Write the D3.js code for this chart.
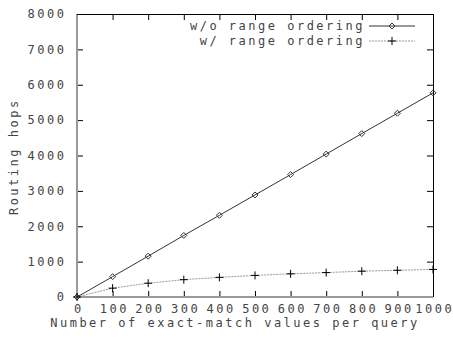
<!DOCTYPE html>
<html>
<head>
<meta charset="utf-8">
<script src="https://cdn.jsdelivr.net/npm/d3@7"></script>
<style>
  body { margin: 0; background: #fff; }
  text { font-family: "DejaVu Sans Mono", monospace; font-size: 12px; letter-spacing: 2.5px; fill: #444; }
</style>
</head>
<body>
<svg id="chart" width="453" height="341"></svg>
<script>
// data
const queryValues = [0, 100, 200, 300, 400, 500, 600, 700, 800, 900, 1000];
const withoutOrdering = [0, 575, 1155, 1740, 2310, 2885, 3460, 4040, 4620, 5195, 5770];
const withOrdering = [0, 250, 390, 490, 555, 610, 655, 690, 730, 755, 780];
const seriesNames = ["w/o range ordering", "w/ range ordering"];
const xTicks = [0, 100, 200, 300, 400, 500, 600, 700, 800, 900, 1000];
const yTicks = [0, 1000, 2000, 3000, 4000, 5000, 6000, 7000, 8000];

const svg = d3.select("#chart");

// plot box
const plotL = 77, plotR = 433, plotT = 14, plotB = 297;

const x = d3.scaleLinear().domain([0, 1000]).range([plotL, plotR]);
const y = d3.scaleLinear().domain([0, 8000]).range([plotB, plotT]);

// ticks pointing inward, gnuplot style
svg.append("g")
    .attr("transform", `translate(${plotL},0)`)
    .call(d3.axisLeft(y).tickValues(yTicks).tickFormat(d3.format("d"))
      .tickSizeInner(-6).tickSizeOuter(0).tickPadding(10.5))
    .call(g => g.select(".domain").remove());

svg.append("g")
    .attr("transform", `translate(${plotR},0)`)
    .call(d3.axisRight(y).tickValues(yTicks).tickSizeInner(-6).tickSizeOuter(0).tickFormat(""))
    .call(g => g.select(".domain").remove());

svg.append("g")
    .attr("transform", `translate(0,${plotB})`)
    .call(d3.axisBottom(x).tickValues(xTicks).tickFormat(d3.format("d"))
      .tickSizeInner(-6).tickSizeOuter(0).tickPadding(7))
    .call(g => g.select(".domain").remove())
    .call(g => g.selectAll("text").attr("dx", "1.25"));

svg.append("g")
    .attr("transform", `translate(0,${plotT})`)
    .call(d3.axisTop(x).tickValues(xTicks).tickSizeInner(-6).tickSizeOuter(0).tickFormat(""))
    .call(g => g.select(".domain").remove());

svg.selectAll(".tick line").attr("stroke", "#000");
svg.selectAll(".tick text")
    .attr("font-family", null).attr("font-size", null)
    .attr("fill", "#444");

// border: left/bottom grey, top/right black
svg.append("line").attr("x1", plotL).attr("x2", plotL).attr("y1", plotT).attr("y2", plotB)
    .attr("stroke", "#999").attr("stroke-width", 2);
svg.append("line").attr("x1", plotL).attr("x2", plotR).attr("y1", plotB).attr("y2", plotB)
    .attr("stroke", "#999").attr("stroke-width", 2);
svg.append("line").attr("x1", plotL).attr("x2", plotR + 0.5).attr("y1", plotT + 0.5).attr("y2", plotT + 0.5)
    .attr("stroke", "#000");
svg.append("line").attr("x1", plotR + 0.5).attr("x2", plotR + 0.5).attr("y1", plotT).attr("y2", plotB)
    .attr("stroke", "#000");

// series
const series = [
  { name: seriesNames[0], values: withoutOrdering, color: "#333", dash: null, marker: "diamond" },
  { name: seriesNames[1], values: withOrdering, color: "#999", dash: "2,1", marker: "plus" }
];

const line = d3.line().x(d => x(d[0])).y(d => y(d[1]));

function drawMarker(g, type, cx, cy) {
  if (type === "diamond") {
    g.append("path")
      .attr("d", `M${cx},${cy - 3}L${cx + 3},${cy}L${cx},${cy + 3}L${cx - 3},${cy}Z`)
      .attr("fill", "none").attr("stroke", "#333");
  } else {
    g.append("path")
      .attr("d", `M${cx - 4},${cy}H${cx + 4}M${cx},${cy - 4}V${cy + 4}`)
      .attr("fill", "none").attr("stroke", "#000");
  }
}

series.forEach(s => {
  const pts = queryValues.map((q, i) => [q, s.values[i]]);
  svg.append("path")
      .datum(pts)
      .attr("d", line)
      .attr("fill", "none")
      .attr("stroke", s.color)
      .attr("stroke-width", 1)
      .attr("stroke-dasharray", s.dash);
  const mg = svg.append("g");
  pts.forEach(p => drawMarker(mg, s.marker, x(p[0]), y(p[1])));
});

// legend
series.forEach((s, i) => {
  const ly = 26 + i * 15;
  svg.append("text")
      .attr("x", 365)
      .attr("y", ly)
      .attr("dy", "0.35em")
      .attr("text-anchor", "end")
      .text(s.name);
  svg.append("line")
      .attr("x1", 369).attr("x2", 415).attr("y1", ly).attr("y2", ly)
      .attr("stroke", s.color).attr("stroke-dasharray", s.dash);
  drawMarker(svg, s.marker, 392, ly);
});

// axis titles
svg.append("text")
    .attr("x", 235)
    .attr("y", 327)
    .attr("text-anchor", "middle")
    .text("Number of exact-match values per query");

svg.append("text")
    .attr("transform", `translate(18,${(plotT + plotB) / 2 + 1.25}) rotate(-90)`)
    .attr("text-anchor", "middle")
    .text("Routing hops");
</script>
</body>
</html>
